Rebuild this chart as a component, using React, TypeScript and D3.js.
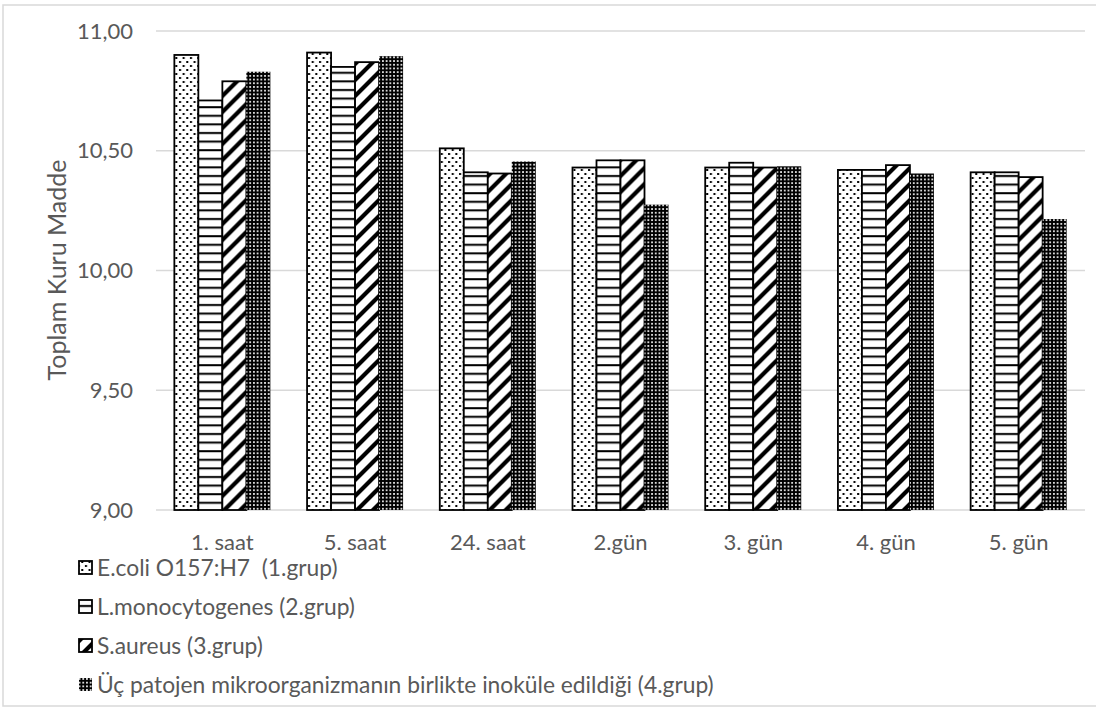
import React from "react";
import * as d3 from "d3";

const categories = ["1. saat", "5. saat", "24. saat", "2.gün", "3. gün", "4. gün", "5. gün"];
const seriesNames = [
  "E.coli O157:H7  (1.grup)",
  "L.monocytogenes (2.grup)",
  "S.aureus (3.grup)",
  "Üç patojen mikroorganizmanın birlikte inoküle edildiği (4.grup)",
];
const ecoli = [10.9, 10.91, 10.51, 10.43, 10.43, 10.42, 10.41];
const lmono = [10.71, 10.85, 10.41, 10.46, 10.45, 10.42, 10.41];
const saureus = [10.79, 10.87, 10.405, 10.46, 10.43, 10.44, 10.39];
const mixed = [10.83, 10.895, 10.455, 10.275, 10.435, 10.405, 10.215];
const yTicks = [9, 9.5, 10, 10.5, 11];
const yTitle = "Toplam Kuru Madde";

const seriesValues = [ecoli, lmono, saureus, mixed];
const patternIds = ["pDots", "pHLines", "pDiag", "pGrid"];

const FONT = "Lato, 'Open Sans', sans-serif";
const TEXT = "#595959";
const GRID = "#d9d9d9";

export default function App() {
  const W = 1096, H = 707;
  const plotL = 156, plotR = 1085, plotT = 31, plotB = 510;
  const y = d3.scaleLinear().domain([9, 11]).range([plotB, plotT]);
  const x0 = d3.scaleBand<string>().domain(categories).range([plotL, plotR]).paddingInner(0.2766).paddingOuter(0.1383);
  const x1 = d3.scaleBand<number>().domain(d3.range(seriesValues.length)).range([0, x0.bandwidth()]).padding(0);
  const fmt = (v: number) => v.toFixed(2).replace(".", ",");
  const legendY = [568, 607, 646, 685];

  return (
    <svg width={W} height={H} style={{ position: "absolute", left: 0, top: 0, background: "#fff" }}>
      <defs>
        <pattern id="pDots" width="7.3" height="8" patternUnits="userSpaceOnUse">
          <rect width="7.3" height="8" fill="#fff" />
          <rect x="1" y="1" width="2" height="2" fill="#000" />
          <rect x="4.65" y="5" width="2" height="2" fill="#000" />
        </pattern>
        <pattern id="pHLines" width="8" height="8.6" patternUnits="userSpaceOnUse">
          <rect width="8" height="8.6" fill="#fff" />
          <rect x="0" y="3" width="8" height="2" fill="#000" />
        </pattern>
        <pattern id="pDiag" width="16" height="16" patternUnits="userSpaceOnUse">
          <rect width="16" height="16" fill="#fff" />
          <path d="M-4,20 L20,-4 M-4,4 L4,-4 M12,20 L20,12" stroke="#000" strokeWidth="4.2" />
        </pattern>
        <pattern id="pGrid" width="3.7" height="3.7" patternUnits="userSpaceOnUse">
          <rect width="3.7" height="3.7" fill="#000" />
          <rect x="1" y="1" width="1.7" height="1.7" fill="#fff" />
        </pattern>
      </defs>
      <rect x={3} y={5} width={1100} height={701} fill="#fff" stroke={GRID} strokeWidth={1.5} />

      {yTicks.map((t) => (
        <g key={t}>
          <line x1={plotL} x2={plotR} y1={y(t)} y2={y(t)} stroke={GRID} strokeWidth={1.3} />
          <text x={133} y={y(t)} dy="0.35em" textAnchor="end" fontFamily={FONT} fontSize={22} fill={TEXT}>
            {fmt(t)}
          </text>
        </g>
      ))}

      {categories.map((c, ci) => (
        <g key={c} transform={`translate(${x0(c)},0)`}>
          {seriesValues.map((vals, si) => (
            <rect
              key={si}
              x={x1(si)}
              y={y(vals[ci])}
              width={x1.bandwidth()}
              height={y(9) - y(vals[ci])}
              fill={`url(#${patternIds[si]})`}
              stroke={si < 3 ? "#000" : "none"}
              strokeWidth={1.8}
            />
          ))}
        </g>
      ))}

      {categories.map((c) => (
        <text key={c} x={(x0(c) as number) + x0.bandwidth() / 2} y={542} dy="0.35em" textAnchor="middle" fontFamily={FONT} fontSize={22} fill={TEXT}>
          {c}
        </text>
      ))}

      <text transform={`translate(57,270) rotate(-90)`} textAnchor="middle" dy="0.35em" fontFamily={FONT} fontSize={25} fill={TEXT}>
        {yTitle}
      </text>

      {seriesNames.map((n, i) => (
        <g key={n}>
          <rect x={79} y={legendY[i] - 7} width={13} height={13} fill={`url(#${patternIds[i]})`} stroke={i < 3 ? "#000" : "none"} strokeWidth={1.8} />
          <text x={97} y={legendY[i]} dy="0.35em" fontFamily={FONT} fontSize={22.8} fill={TEXT} style={{ whiteSpace: "pre" }}>
            {n}
          </text>
        </g>
      ))}
    </svg>
  );
}
